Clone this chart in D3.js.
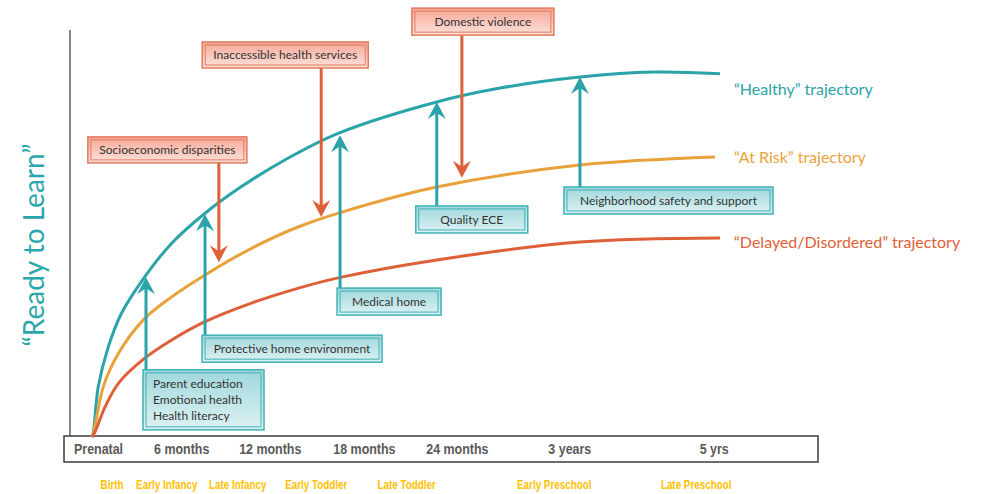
<!DOCTYPE html>
<html>
<head>
<meta charset="utf-8">
<script src="https://cdn.jsdelivr.net/npm/d3@7"></script>
<style>
  body { margin: 0; background: #fff; }
  svg { display: block; }
</style>
</head>
<body>
<div id="chart"></div>
<script>
// Trajectory curves, in "development" units (x 0-100) and "readiness" units (y 0-100)
const healthyX = [0, 0.2, 1.0, 2.6, 4.7, 8.4, 12.7, 18.0, 23.8, 30.7, 39.2, 54.9, 65.0, 77.7, 89.3, 100];
const healthyY = [0, 1.1, 13.8, 24.7, 33.9, 43.9, 53.1, 61.3, 68.6, 75.9, 83.2, 91.8, 95.6, 98.6, 100, 99.5];
const atRiskX = [0, 0.3, 1.8, 4.2, 8.4, 12.7, 18.0, 25.4, 32.9, 40.3, 54.9, 77.7, 99.2];
const atRiskY = [0, 1.5, 13.8, 22.9, 32.5, 38.4, 44.4, 51.7, 57.6, 61.9, 68.5, 74.5, 76.7];
const delayedX = [0, 0.5, 2.1, 4.2, 8.4, 12.7, 18.0, 25.4, 32.9, 39.2, 54.9, 77.7, 100];
const delayedY = [0, 1.5, 8.3, 14.7, 21.6, 26.6, 31.6, 36.7, 40.8, 43.6, 48.5, 53.4, 54.5];
const trajectoryNames = ['\u201cHealthy\u201d trajectory', '\u201cAt Risk\u201d trajectory', '\u201cDelayed/Disordered\u201d trajectory'];

// Protective factors (teal, pushing up)
const protectiveLabels = [['Parent education', 'Emotional health', 'Health literacy'], ['Protective home environment'], ['Medical home'], ['Quality ECE'], ['Neighborhood safety and support']];
const protectiveAt = [8.6, 18.0, 39.5, 54.9, 77.7];
const protectiveFrom = [18.4, 27.9, 40.8, 63.3, 68.5];
const protectiveTo = [43.8, 61.0, 82.7, 91.8, 98.6];

// Risk factors (red, pushing down)
const riskLabels = ['Socioeconomic disparities', 'Inaccessible health services', 'Domestic violence'];
const riskAt = [20.2, 36.5, 58.9];
const riskFrom = [75.1, 101.1, 110.1];
const riskTo = [47.9, 60.3, 71.0];

// Axis
const tickLabels = ['Prenatal', '6 months', '12 months', '18 months', '24 months', '3 years', '5 yrs'];
const tickAt = [0.96, 14.2, 28.3, 43.3, 58.1, 76.0, 99.0];
const stageLabels = ['Birth', 'Early Infancy', 'Late Infancy', 'Early Toddler', 'Late Toddler', 'Early Preschool', 'Late Preschool'];
const stageAt = [3.2, 11.9, 23.2, 35.7, 50.1, 73.6, 96.2];

const width = 992, height = 494;
const teal = '#2aa3a9', orange = '#e9a23b', red = '#de6038';
const narrowFont = '"Liberation Sans", Arial, sans-serif';
const boxFont = 'Lato, "Open Sans", sans-serif';

const svg = d3.select('#chart').append('svg')
    .attr('width', width)
    .attr('height', height);

const x = d3.scaleLinear().domain([0, 100]).range([92, 720]);
const y = d3.scaleLinear().domain([0, 100]).range([437, 72]);

// gradients for boxes
const defs = svg.append('defs');
function grad(id, top, bottom) {
    const g = defs.append('linearGradient').attr('id', id)
        .attr('x1', 0).attr('y1', 0).attr('x2', 0).attr('y2', 1);
    g.append('stop').attr('offset', '0%').attr('stop-color', top);
    g.append('stop').attr('offset', '100%').attr('stop-color', bottom);
}
grad('redFill', '#f7a797', '#fde2db');
grad('tealFill', '#9fd7db', '#def2f3');

// y axis line
svg.append('line')
    .attr('x1', 70).attr('x2', 70)
    .attr('y1', 30).attr('y2', 437)
    .attr('stroke', '#333').attr('stroke-width', 1.2);

// y label
svg.append('text')
    .attr('transform', 'translate(44, 245) rotate(-90)')
    .attr('text-anchor', 'middle')
    .style('font-family', boxFont)
    .style('font-weight', 400)
    .style('font-size', '28px')
    .style('fill', '#2ba6ac')
    .text('\u201cReady to Learn\u201d');

// x axis box
svg.append('rect')
    .attr('x', 64).attr('y', 436)
    .attr('width', 754).attr('height', 26)
    .attr('fill', '#fff')
    .attr('stroke', '#3c3c3c').attr('stroke-width', 1.5);

const xAxis = d3.axisBottom(x)
    .tickValues(tickAt)
    .tickFormat((d, i) => tickLabels[i])
    .tickSize(0);

const axisG = svg.append('g')
    .attr('transform', 'translate(0, 436)')
    .call(xAxis);
axisG.select('.domain').remove();
axisG.selectAll('text')
    .attr('y', 0)
    .attr('dy', 0)
    .attr('transform', 'translate(0, 18) scale(0.83, 1)')
    .style('font-family', narrowFont)
    .style('font-weight', 'bold')
    .style('font-size', '15px')
    .style('fill', '#595959');

// stage labels
svg.append('g').selectAll('text')
    .data(stageLabels)
    .enter()
    .append('text')
    .attr('transform', (d, i) => `translate(${x(stageAt[i])}, 489) scale(0.82, 1)`)
    .attr('text-anchor', 'middle')
    .style('font-family', narrowFont)
    .style('font-weight', 'bold')
    .style('font-size', '12px')
    .style('fill', '#ffc000')
    .text(d => d);

// trajectories
const line = d3.line()
    .x(d => x(d[0]))
    .y(d => y(d[1]))
    .curve(d3.curveCatmullRom.alpha(0.5));

const series = [
    { name: trajectoryNames[0], color: teal, pts: d3.zip(healthyX, healthyY), labelY: 89 },
    { name: trajectoryNames[1], color: orange, pts: d3.zip(atRiskX, atRiskY), labelY: 157 },
    { name: trajectoryNames[2], color: red, pts: d3.zip(delayedX, delayedY), labelY: 242 }
];

svg.append('g').selectAll('path')
    .data(series)
    .enter()
    .append('path')
    .attr('d', d => line(d.pts))
    .attr('fill', 'none')
    .attr('stroke', d => d.color)
    .attr('stroke-width', 3);

svg.append('g').selectAll('text')
    .data(series)
    .enter()
    .append('text')
    .attr('x', x(100) + 14)
    .attr('y', d => d.labelY)
    .attr('dy', '0.35em')
    .style('font-family', boxFont)
    .style('font-size', '16px')
    .style('fill', d => d.color)
    .text(d => d.name);

// arrows
function arrow(g, xs, y0, y1, color) {
    const dir = y1 < y0 ? 1 : -1; // 1 = pointing up
    g.append('line')
        .attr('x1', xs).attr('x2', xs)
        .attr('y1', y0).attr('y2', y1 + dir * 4)
        .attr('stroke', color).attr('stroke-width', 3);
    g.append('path')
        .attr('d', `M${xs},${y1} L${xs - 9},${y1 + dir * 17} L${xs},${y1 + dir * 11} L${xs + 9},${y1 + dir * 17} Z`)
        .attr('fill', color);
}

// box with double border
function box(g, bx, by, bw, bh, fill, strokeColor) {
    g.append('rect')
        .attr('x', bx).attr('y', by)
        .attr('width', bw).attr('height', bh)
        .attr('fill', fill)
        .attr('stroke', strokeColor).attr('stroke-width', 1.5);
    g.append('rect')
        .attr('x', bx + 3).attr('y', by + 3)
        .attr('width', bw - 6).attr('height', bh - 6)
        .attr('fill', 'none')
        .attr('stroke', strokeColor).attr('stroke-width', 1);
}

// layout of the protective boxes: offset of arrow from box left, size
const protectiveBox = [
    { dx: 3, w: 121, h: 60, align: 'start' },
    { dx: 3, w: 180, h: 27, align: 'middle' },
    { dx: 3, w: 104, h: 27, align: 'middle' },
    { dx: 21, w: 112, h: 27, align: 'middle' },
    { dx: 16, w: 209, h: 27, align: 'middle' }
];

const pg = svg.append('g');
protectiveLabels.forEach((lines, i) => {
    const ax = x(protectiveAt[i]);
    const base = y(protectiveFrom[i]);
    arrow(pg, ax, base, y(protectiveTo[i]), teal);
    const b = protectiveBox[i];
    const bx = ax - b.dx;
    box(pg, bx, base, b.w, b.h, 'url(#tealFill)', '#3fb1b7');
    const t = pg.append('text')
        .style('font-family', boxFont)
        .style('font-size', '12px')
        .style('fill', '#333')
        .attr('text-anchor', b.align);
    lines.forEach((s, j) => {
        t.append('tspan')
            .attr('x', b.align === 'start' ? bx + 10 : bx + b.w / 2)
            .attr('y', base + (lines.length > 1 ? 14 + j * 16 : b.h / 2))
            .attr('dy', '0.35em')
            .text(s);
    });
});

// layout of the risk boxes
const riskBox = [
    { dx: 131, w: 159, h: 26 },
    { dx: 119, w: 166, h: 26 },
    { dx: 50, w: 142, h: 27 }
];

const rg = svg.append('g');
riskLabels.forEach((s, i) => {
    const ax = x(riskAt[i]);
    const base = y(riskFrom[i]);
    arrow(rg, ax, base, y(riskTo[i]), red);
    const b = riskBox[i];
    const bx = ax - b.dx;
    box(rg, bx, base - b.h, b.w, b.h, 'url(#redFill)', '#e07a5c');
    rg.append('text')
        .attr('x', bx + b.w / 2)
        .attr('y', base - b.h / 2)
        .attr('dy', '0.35em')
        .attr('text-anchor', 'middle')
        .style('font-family', boxFont)
        .style('font-size', '12px')
        .style('fill', '#333')
        .text(s);
});
</script>
</body>
</html>
